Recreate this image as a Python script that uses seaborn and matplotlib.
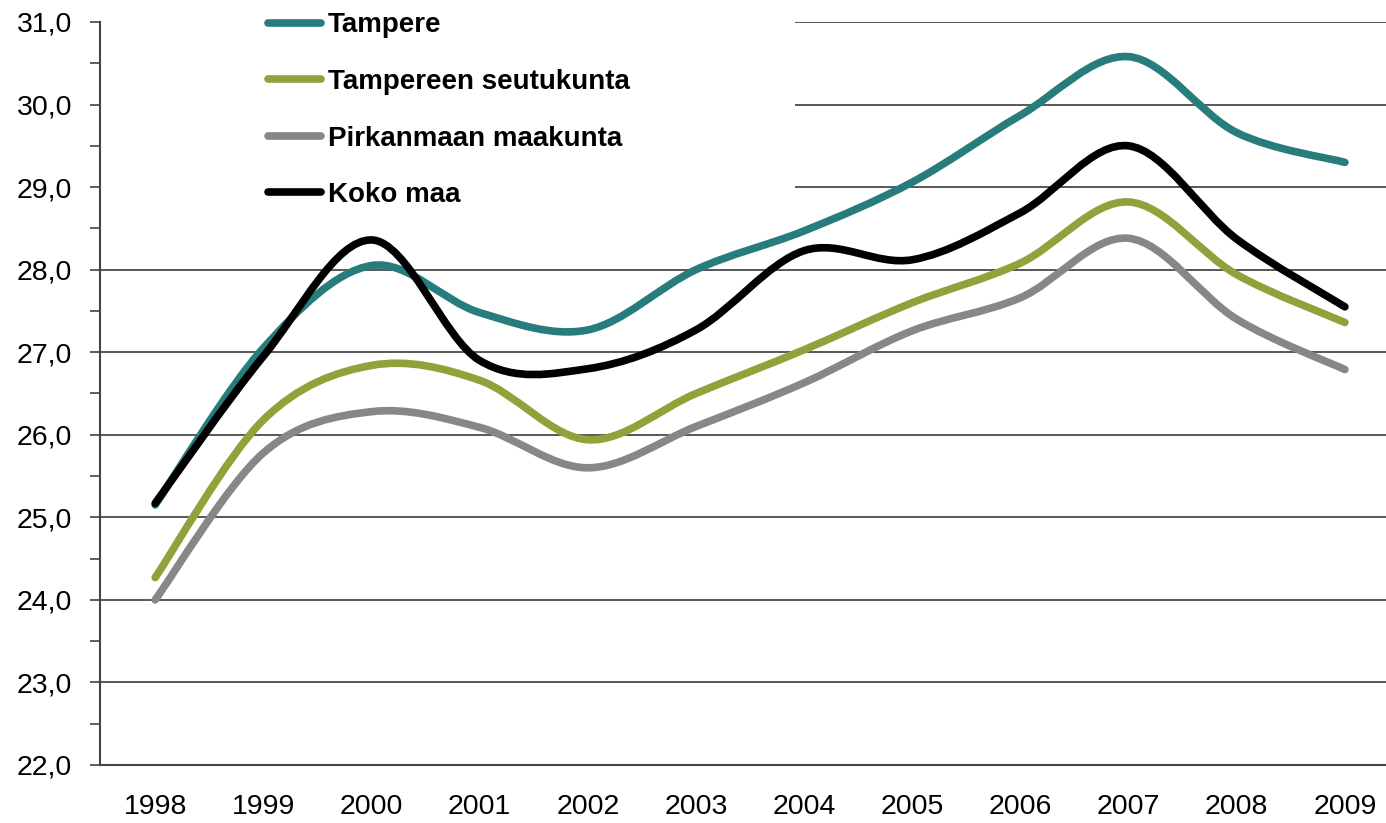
import numpy as np
import pandas as pd
import seaborn as sns
import matplotlib.pyplot as plt
from matplotlib.path import Path
from matplotlib.patches import PathPatch, Rectangle
from matplotlib.lines import Line2D

# data
years = list(range(1998, 2010))
tampere = [25.15, 27.05, 28.05, 27.48, 27.27, 28.0, 28.47, 29.06, 29.87, 30.58, 29.66, 29.3]
seutukunta = [24.27, 26.18, 26.84, 26.66, 25.94, 26.5, 27.03, 27.6, 28.08, 28.82, 27.94, 27.36]
pirkanmaa = [24.0, 25.78, 26.28, 26.09, 25.6, 26.1, 26.63, 27.26, 27.66, 28.38, 27.4, 26.79]
koko_maa = [25.17, 26.95, 28.36, 26.9, 26.8, 27.27, 28.23, 28.12, 28.69, 29.5, 28.37, 27.55]

names = ["Tampere", "Tampereen seutukunta", "Pirkanmaan maakunta", "Koko maa"]
colors = ["#267d7b", "#94a13a", "#878787", "#000000"]
y_ticks = [22, 23, 24, 25, 26, 27, 28, 29, 30, 31]
y_labels = ["22,0", "23,0", "24,0", "25,0", "26,0", "27,0", "28,0", "29,0", "30,0", "31,0"]

df = pd.DataFrame({"vuosi": years * 4,
                   "arvo": tampere + seutukunta + pirkanmaa + koko_maa,
                   "alue": [n for n in names for _ in years]})

sns.set_theme(style="white")
plt.rcParams['font.family'] = ['Liberation Sans', 'DejaVu Sans']
plt.rcParams['text.color'] = 'black'

fig = plt.figure(figsize=(13.86, 8.23), dpi=100)
ax = fig.add_axes([100 / 1386, 1 - 765 / 823, 1 - 100 / 1386, (765 - 22) / 823])

# seaborn lays out the series; the visible curves are Excel-style smoothed beziers
sns.lineplot(data=df, x="vuosi", y="arvo", hue="alue", hue_order=names,
             palette=colors, ax=ax, legend=False, linewidth=0)


def smooth_path(xs, ys):
    pts = np.column_stack([xs, ys]).astype(float)
    verts = [pts[0]]
    codes = [Path.MOVETO]
    n = len(pts)
    for i in range(n - 1):
        p0 = pts[i - 1] if i > 0 else pts[i]
        p1 = pts[i]
        p2 = pts[i + 1]
        p3 = pts[i + 2] if i + 2 < n else pts[i + 1]
        verts += [p1 + (p2 - p0) / 6, p2 - (p3 - p1) / 6, p2]
        codes += [Path.CURVE4] * 3
    return Path(verts, codes)


for name, col in zip(names, colors):
    sub = df[df["alue"] == name]
    patch = PathPatch(smooth_path(sub["vuosi"], sub["arvo"]), facecolor="none",
                      edgecolor=col, lw=5.5, capstyle="round", joinstyle="round",
                      zorder=3)
    ax.add_patch(patch)

ax.set_xlim(1997.49, 2009.38)
ax.set_ylim(22, 31)
ax.set_xticks(years)
ax.set_xticklabels([str(y) for y in years], fontsize=20.5, color="black")
ax.set_yticks(y_ticks)
ax.set_yticklabels(y_labels, fontsize=20.5, color="black")
ax.set_yticks(np.arange(22.5, 31, 1.0), minor=True)
ax.tick_params(axis="x", length=0, pad=21)
ax.tick_params(axis="y", which="both", left=True, length=7, width=1.2,
               color="#444444", pad=13, direction="out")
ax.set_xlabel("")
ax.set_ylabel("")

ax.set_axisbelow(True)
ax.yaxis.grid(True, color="#4a4a4a", lw=1.3)
for s in ["top", "right"]:
    ax.spines[s].set_visible(False)
for s in ["left", "bottom"]:
    ax.spines[s].set_color("#444444")
    ax.spines[s].set_linewidth(1.5)

# white block behind the legend hides the upper grid lines
ax.add_patch(Rectangle((0, (765 - 225) / 743), (795 - 100) / 1286, 0.5,
                       transform=ax.transAxes, facecolor="white",
                       edgecolor="none", zorder=1.5, clip_on=False))

handles = [Line2D([], [], color=c, lw=5.5, solid_capstyle="round") for c in colors]
leg = fig.legend(handles, names, loc="upper left",
                 bbox_to_anchor=(268 / 1386, 1 - 12.5 / 823), frameon=False,
                 handlelength=1.9, handletextpad=0.25, labelspacing=1.1,
                 borderpad=0, borderaxespad=0,
                 prop={"weight": "bold", "size": 20})
for t in leg.get_texts():
    t.set_color("black")

fig.savefig("out.png", dpi=100, facecolor="white")
